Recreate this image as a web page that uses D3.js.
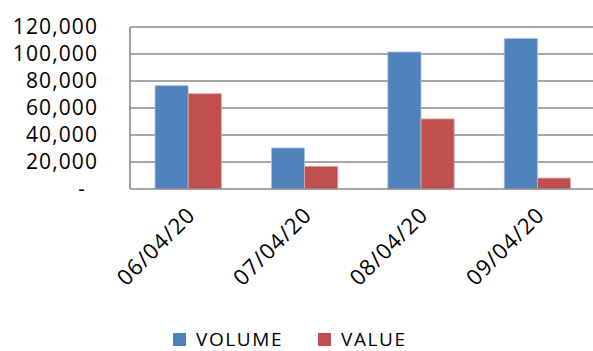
<!DOCTYPE html>
<html>
<head>
<meta charset="utf-8">
<script src="https://cdn.jsdelivr.net/npm/d3@7"></script>
<style>
  html, body { margin: 0; padding: 0; background: #fff; }
  svg { display: block; }
  text { font-family: "Open Sans", sans-serif; fill: #000; }
</style>
</head>
<body>
<svg id="chart" width="593" height="351"></svg>
<script>
// Daily trading figures
const categories = ["06/04/20", "07/04/20", "08/04/20", "09/04/20"];
const seriesNames = ["VOLUME", "VALUE"];
const volume = [76500, 30400, 101500, 111400];
const value = [70600, 16800, 51900, 8100];
const yTicks = [0, 20000, 40000, 60000, 80000, 100000, 120000];
const colors = ["#4F81BD", "#C0504D"];

const svg = d3.select("#chart");

const plot = { left: 130, right: 595.6, top: 27, bottom: 189 };

const x = d3.scaleBand()
  .domain(categories)
  .range([plot.left, plot.right])
  .paddingInner(0.43)
  .paddingOuter(0.215);

const xs = d3.scaleBand()
  .domain(seriesNames)
  .range([0, x.bandwidth()]);

const y = d3.scaleLinear()
  .domain([0, 120000])
  .range([plot.bottom, plot.top]);

const fmt = d3.format(",");

// Horizontal gridlines
svg.append("g")
  .selectAll("line")
  .data(yTicks.filter(d => d > 0))
  .join("line")
  .attr("x1", plot.left)
  .attr("x2", 593)
  .attr("y1", d => y(d))
  .attr("y2", d => y(d))
  .attr("stroke", "#8a8a8a")
  .attr("stroke-width", 1.6);

// Bars
const rows = categories.map((c, i) => ({ cat: c, vals: [volume[i], value[i]] }));
const groups = svg.append("g")
  .selectAll("g")
  .data(rows)
  .join("g")
  .attr("transform", d => `translate(${x(d.cat)},0)`);

groups.selectAll("rect")
  .data(d => d.vals.map((v, k) => ({ name: seriesNames[k], v, k })))
  .join("rect")
  .attr("x", d => xs(d.name))
  .attr("width", xs.bandwidth())
  .attr("y", d => y(d.v))
  .attr("height", d => y(0) - y(d.v))
  .attr("fill", d => colors[d.k])
  .attr("stroke", d => d.k === 0 ? "#a9c0dd" : "#e0a9a7")
  .attr("stroke-width", 0.8);

// Axes lines
svg.append("line")
  .attr("x1", plot.left).attr("x2", plot.left)
  .attr("y1", plot.top).attr("y2", plot.bottom)
  .attr("stroke", "#8a8a8a").attr("stroke-width", 1.6);
svg.append("line")
  .attr("x1", plot.left).attr("x2", 593)
  .attr("y1", plot.bottom).attr("y2", plot.bottom)
  .attr("stroke", "#8a8a8a").attr("stroke-width", 1.6);

// Y axis labels
const yAxis = d3.axisLeft(y)
  .tickValues(yTicks)
  .tickSize(0)
  .tickPadding(0)
  .tickFormat(d => d === 0 ? "-" : fmt(d));

const yg = svg.append("g")
  .attr("transform", `translate(98,0)`)
  .call(yAxis);
yg.select(".domain").remove();
yg.selectAll("text")
  .style("font-family", "'Open Sans', sans-serif")
  .style("font-size", "21px")
  .style("letter-spacing", "1.1px")
  .attr("fill", "#000")
  .attr("dx", d => d === 0 ? "-12px" : null);

// X axis labels, rotated
const xAxis = d3.axisBottom(x).tickSize(0).tickPadding(0);
const xg = svg.append("g")
  .attr("transform", `translate(0,${plot.bottom})`)
  .call(xAxis);
xg.select(".domain").remove();
xg.selectAll("text")
  .style("font-family", "'Open Sans', sans-serif")
  .style("font-size", "22px")
  .style("letter-spacing", "1px")
  .attr("fill", "#000")
  .attr("text-anchor", "end")
  .attr("y", 0)
  .attr("dy", "0.35em")
  .attr("transform", "translate(3,22) rotate(-45)");

// Legend
const legend = svg.append("g");
const legendItems = [
  { name: seriesNames[0], x: 173 },
  { name: seriesNames[1], x: 318 }
];
legendItems.forEach((it, k) => {
  legend.append("rect")
    .attr("x", it.x).attr("y", 333)
    .attr("width", 13).attr("height", 13)
    .attr("fill", colors[k]);
  legend.append("text")
    .attr("x", it.x + 23).attr("y", 346)
    .style("font-size", "19px")
    .style("letter-spacing", "1.6px")
    .text(it.name);
});
</script>
</body>
</html>
